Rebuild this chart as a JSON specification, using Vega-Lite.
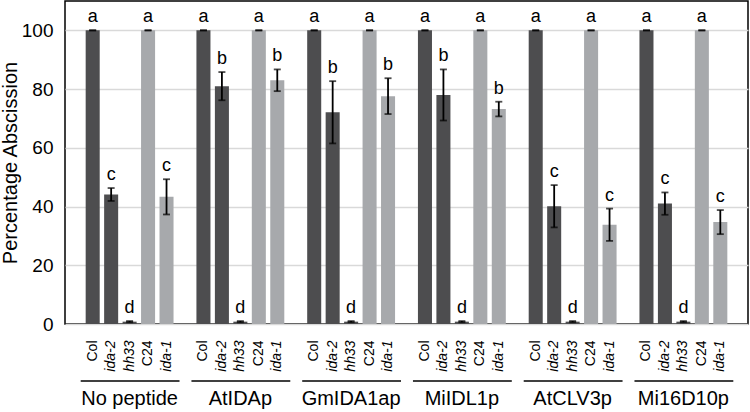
{
  "$schema": "https://vega.github.io/schema/vega-lite/v6.json",
  "width": 683,
  "height": 323,
  "autosize": {"type": "none"},
  "padding": {"left": 65, "top": 1, "right": 2, "bottom": 88},
  "config": {
    "font": "Liberation Sans",
    "view": {"stroke": "black", "strokeWidth": 1.5}
  },
  "datasets": {
    "bars": [
      {"key": "No peptide|Col", "group": "No peptide", "strain": "Col", "value": 100, "err": 0, "letter": "a"},
      {"key": "No peptide|ida-2", "group": "No peptide", "strain": "ida-2", "value": 44.1, "err": 2.2, "letter": "c"},
      {"key": "No peptide|hh33", "group": "No peptide", "strain": "hh33", "value": 0.8, "err": 0.2, "letter": "d"},
      {"key": "No peptide|C24", "group": "No peptide", "strain": "C24", "value": 100, "err": 0, "letter": "a"},
      {"key": "No peptide|ida-1", "group": "No peptide", "strain": "ida-1", "value": 43.3, "err": 6.0, "letter": "c"},
      {"key": "AtIDAp|Col", "group": "AtIDAp", "strain": "Col", "value": 100, "err": 0, "letter": "a"},
      {"key": "AtIDAp|ida-2", "group": "AtIDAp", "strain": "ida-2", "value": 81.0, "err": 4.8, "letter": "b"},
      {"key": "AtIDAp|hh33", "group": "AtIDAp", "strain": "hh33", "value": 0.8, "err": 0.2, "letter": "d"},
      {"key": "AtIDAp|C24", "group": "AtIDAp", "strain": "C24", "value": 100, "err": 0, "letter": "a"},
      {"key": "AtIDAp|ida-1", "group": "AtIDAp", "strain": "ida-1", "value": 83.0, "err": 3.7, "letter": "b"},
      {"key": "GmIDA1ap|Col", "group": "GmIDA1ap", "strain": "Col", "value": 100, "err": 0, "letter": "a"},
      {"key": "GmIDA1ap|ida-2", "group": "GmIDA1ap", "strain": "ida-2", "value": 72.1, "err": 10.6, "letter": "b"},
      {"key": "GmIDA1ap|hh33", "group": "GmIDA1ap", "strain": "hh33", "value": 0.8, "err": 0.2, "letter": "d"},
      {"key": "GmIDA1ap|C24", "group": "GmIDA1ap", "strain": "C24", "value": 100, "err": 0, "letter": "a"},
      {"key": "GmIDA1ap|ida-1", "group": "GmIDA1ap", "strain": "ida-1", "value": 77.6, "err": 6.1, "letter": "b"},
      {"key": "MiIDL1p|Col", "group": "MiIDL1p", "strain": "Col", "value": 100, "err": 0, "letter": "a"},
      {"key": "MiIDL1p|ida-2", "group": "MiIDL1p", "strain": "ida-2", "value": 78.0, "err": 8.7, "letter": "b"},
      {"key": "MiIDL1p|hh33", "group": "MiIDL1p", "strain": "hh33", "value": 0.8, "err": 0.2, "letter": "d"},
      {"key": "MiIDL1p|C24", "group": "MiIDL1p", "strain": "C24", "value": 100, "err": 0, "letter": "a"},
      {"key": "MiIDL1p|ida-1", "group": "MiIDL1p", "strain": "ida-1", "value": 73.2, "err": 2.5, "letter": "b"},
      {"key": "AtCLV3p|Col", "group": "AtCLV3p", "strain": "Col", "value": 100, "err": 0, "letter": "a"},
      {"key": "AtCLV3p|ida-2", "group": "AtCLV3p", "strain": "ida-2", "value": 40.1, "err": 7.2, "letter": "c"},
      {"key": "AtCLV3p|hh33", "group": "AtCLV3p", "strain": "hh33", "value": 0.8, "err": 0.2, "letter": "d"},
      {"key": "AtCLV3p|C24", "group": "AtCLV3p", "strain": "C24", "value": 100, "err": 0, "letter": "a"},
      {"key": "AtCLV3p|ida-1", "group": "AtCLV3p", "strain": "ida-1", "value": 33.8, "err": 5.5, "letter": "c"},
      {"key": "Mi16D10p|Col", "group": "Mi16D10p", "strain": "Col", "value": 100, "err": 0, "letter": "a"},
      {"key": "Mi16D10p|ida-2", "group": "Mi16D10p", "strain": "ida-2", "value": 41.0, "err": 3.8, "letter": "c"},
      {"key": "Mi16D10p|hh33", "group": "Mi16D10p", "strain": "hh33", "value": 0.8, "err": 0.2, "letter": "d"},
      {"key": "Mi16D10p|C24", "group": "Mi16D10p", "strain": "C24", "value": 100, "err": 0, "letter": "a"},
      {"key": "Mi16D10p|ida-1", "group": "Mi16D10p", "strain": "ida-1", "value": 34.7, "err": 4.1, "letter": "c"}
    ],
    "groups": [
      {"group": "No peptide", "first": "No peptide|Col", "last": "No peptide|ida-1"},
      {"group": "AtIDAp", "first": "AtIDAp|Col", "last": "AtIDAp|ida-1"},
      {"group": "GmIDA1ap", "first": "GmIDA1ap|Col", "last": "GmIDA1ap|ida-1"},
      {"group": "MiIDL1p", "first": "MiIDL1p|Col", "last": "MiIDL1p|ida-1"},
      {"group": "AtCLV3p", "first": "AtCLV3p|Col", "last": "AtCLV3p|ida-1"},
      {"group": "Mi16D10p", "first": "Mi16D10p|Col", "last": "Mi16D10p|ida-1"}
    ]
  },
  "data": {"name": "bars"},
  "encoding": {
    "x": {
      "field": "key",
      "type": "nominal",
      "sort": null,
      "scale": {
        "domain": [
          "gap0",
          "No peptide|Col", "No peptide|ida-2", "No peptide|hh33", "No peptide|C24", "No peptide|ida-1",
          "gap1",
          "AtIDAp|Col", "AtIDAp|ida-2", "AtIDAp|hh33", "AtIDAp|C24", "AtIDAp|ida-1",
          "gap2",
          "GmIDA1ap|Col", "GmIDA1ap|ida-2", "GmIDA1ap|hh33", "GmIDA1ap|C24", "GmIDA1ap|ida-1",
          "gap3",
          "MiIDL1p|Col", "MiIDL1p|ida-2", "MiIDL1p|hh33", "MiIDL1p|C24", "MiIDL1p|ida-1",
          "gap4",
          "AtCLV3p|Col", "AtCLV3p|ida-2", "AtCLV3p|hh33", "AtCLV3p|C24", "AtCLV3p|ida-1",
          "gap5",
          "Mi16D10p|Col", "Mi16D10p|ida-2", "Mi16D10p|hh33", "Mi16D10p|C24", "Mi16D10p|ida-1",
          "gap6"
        ],
        "paddingInner": 0.24,
        "paddingOuter": 0.12
      },
      "axis": {
        "title": null,
        "ticks": false,
        "domain": false,
        "grid": false,
        "labelAngle": -90,
        "labelAlign": "right",
        "labelBaseline": "middle",
        "labelPadding": 16,
        "labelFontSize": 14,
        "labelColor": "black",
        "labelExpr": "indexof(datum.value, '|') >= 0 ? split(datum.value, '|')[1] : ''",
        "labelFontStyle": {
          "condition": {"test": "indexof(datum.value, 'ida-') >= 0 || indexof(datum.value, 'hh33') >= 0", "value": "italic"},
          "value": "normal"
        }
      }
    }
  },
  "layer": [
    {
      "mark": {"type": "bar"},
      "encoding": {
        "y": {
          "field": "value",
          "type": "quantitative",
          "title": "Percentage Abscission",
          "scale": {"domain": [0, 110], "nice": false},
          "axis": {
            "title": "Percentage Abscission",
            "titleFontSize": 20,
            "titleFontWeight": "normal",
            "titleColor": "black",
            "titlePadding": 1,
            "values": [0, 20, 40, 60, 80, 100],
            "labelFontSize": 19,
            "labelColor": "black",
            "labelPadding": 12,
            "ticks": false,
            "domain": false,
            "grid": true,
            "gridColor": "#d9d9d9",
            "gridWidth": 1.5
          }
        },
        "color": {
          "field": "strain",
          "type": "nominal",
          "scale": {"domain": ["Col", "ida-2", "hh33", "C24", "ida-1"], "range": ["#4d4d4f", "#4d4d4f", "#4d4d4f", "#a7a9ac", "#a7a9ac"]},
          "legend": null
        }
      }
    },
    {
      "mark": {"type": "errorbar", "color": "black", "thickness": 1.8, "ticks": {"size": 7, "thickness": 1.8}},
      "encoding": {
        "y": {"field": "value", "type": "quantitative", "title": "Percentage Abscission"},
        "yError": {"field": "err"}
      }
    },
    {
      "transform": [{"calculate": "datum.value + datum.err", "as": "top"}],
      "mark": {"type": "text", "baseline": "alphabetic", "dy": -8, "fontSize": 18, "color": "black"},
      "encoding": {
        "y": {"field": "top", "type": "quantitative", "title": "Percentage Abscission"},
        "text": {"field": "letter"}
      }
    },
    {
      "transform": [{"filter": "datum.strain === 'hh33'"}],
      "mark": {"type": "text", "baseline": "alphabetic", "fontSize": 20, "color": "black"},
      "encoding": {
        "y": {"datum": -27.6, "title": "Percentage Abscission"},
        "text": {"field": "group"}
      }
    },
    {
      "data": {"name": "groups"},
      "mark": {"type": "rule", "color": "black", "strokeWidth": 1.5, "xOffset": -12, "x2Offset": 13},
      "encoding": {
        "x": {"field": "first", "type": "nominal"},
        "x2": {"field": "last"},
        "y": {"datum": -19.4, "title": "Percentage Abscission"}
      }
    }
  ]
}
